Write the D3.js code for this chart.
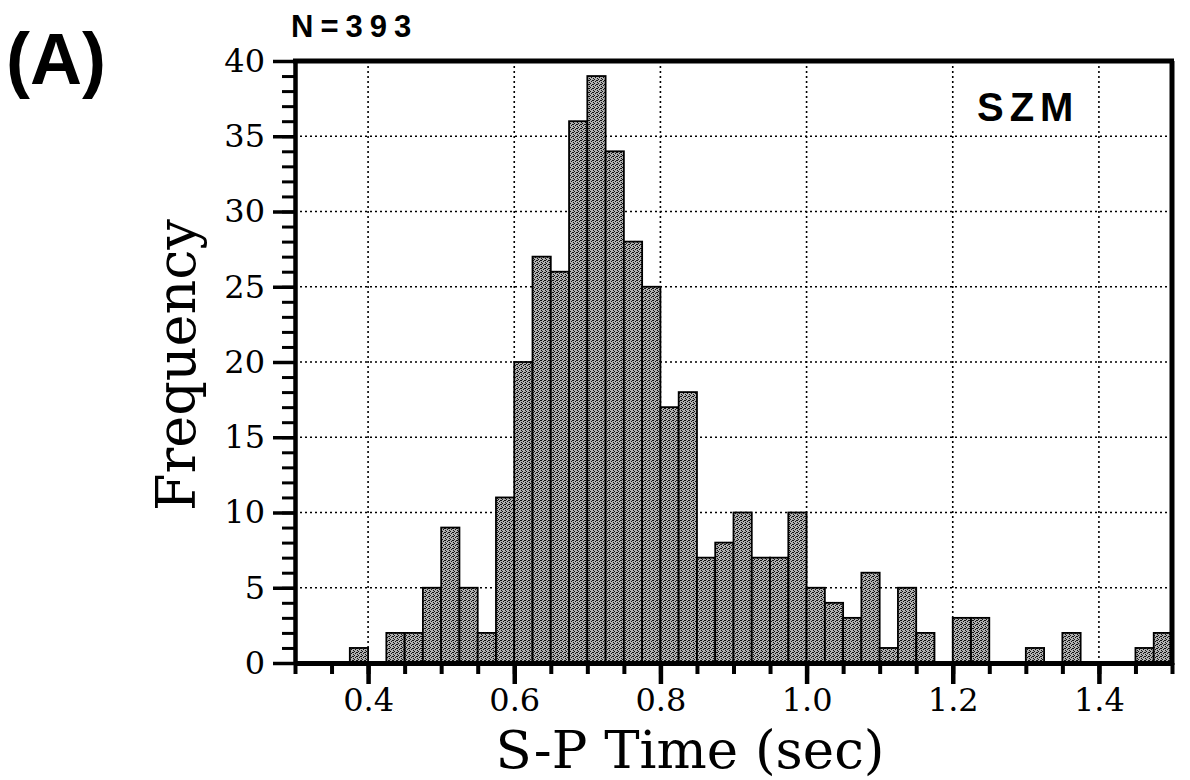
<!DOCTYPE html>
<html>
<head>
<meta charset="utf-8">
<script src="https://cdn.jsdelivr.net/npm/d3@7"></script>
<style>
    body { margin: 0; background: #fff; }
    .tick text { font-family: "DejaVu Serif", serif; font-size: 32px; fill: #000; }
</style>
</head>
<body>
<div id="chart"></div>
<script>

// bins of S-P time (sec), left edges, width 0.025
const binStarts = [0.300, 0.325, 0.350, 0.375, 0.400, 0.425, 0.450, 0.475,
    0.500, 0.525, 0.550, 0.575, 0.600, 0.625, 0.650, 0.675,
    0.700, 0.725, 0.750, 0.775, 0.800, 0.825, 0.850, 0.875,
    0.900, 0.925, 0.950, 0.975, 1.000, 1.025, 1.050, 1.075,
    1.100, 1.125, 1.150, 1.175, 1.200, 1.225, 1.250, 1.275,
    1.300, 1.325, 1.350, 1.375, 1.400, 1.425, 1.450, 1.475];
const binWidth = 0.025;

// frequency per bin
const counts = [0, 0, 0, 1, 0, 2, 2, 5,
    9, 5, 2, 11, 20, 27, 26, 36,
    39, 34, 28, 25, 17, 18, 7, 8,
    10, 7, 7, 10, 5, 4, 3, 6,
    1, 5, 2, 0, 3, 3, 0, 0,
    1, 0, 2, 0, 0, 0, 1, 2];

const xDomain = [0.3, 1.5];
const xMajorTicks = [0.4, 0.6, 0.8, 1.0, 1.2, 1.4];
const xTickLabels = ["0.4", "0.6", "0.8", "1.0", "1.2", "1.4"];
const yDomain = [0, 40];
const yMajorTicks = [0, 5, 10, 15, 20, 25, 30, 35, 40];
const yTickLabels = ["0", "5", "10", "15", "20", "25", "30", "35", "40"];

class HistVis {

    constructor(parentElement) {
        this.parentElement = parentElement;
        this.initVis();
    }

    initVis() {
        let vis = this;

        vis.margin = {top: 61, right: 18, bottom: 117, left: 295};
        vis.width = 1190 - vis.margin.left - vis.margin.right;
        vis.height = 780 - vis.margin.top - vis.margin.bottom;

        vis.root = d3.select("#" + vis.parentElement).append("svg")
            .attr("width", 1190)
            .attr("height", 780);

        // stipple fill like the scanned bars
        let pat = vis.root.append("defs").append("pattern")
            .attr("id", "stipple")
            .attr("width", 4).attr("height", 4)
            .attr("patternUnits", "userSpaceOnUse");
        pat.append("rect").attr("width", 4).attr("height", 4).attr("fill", "#b0b0b0");
        [[0, 0], [2, 1], [1, 3], [3, 2], [2, 3]].forEach(p => {
            pat.append("rect").attr("x", p[0]).attr("y", p[1])
                .attr("width", 1).attr("height", 1).attr("fill", "#111");
        });

        vis.svg = vis.root.append("g")
            .attr("transform", `translate(${vis.margin.left}, ${vis.margin.top})`);

        vis.x = d3.scaleLinear().domain(xDomain).range([0, vis.width]);
        vis.y = d3.scaleLinear().domain(yDomain).range([vis.height, 0]);

        // dotted grid
        let grid = vis.svg.append("g").attr("class", "grid");
        grid.selectAll("line.vgrid")
            .data(xMajorTicks)
            .enter().append("line")
            .attr("class", "vgrid")
            .attr("x1", d => vis.x(d)).attr("x2", d => vis.x(d))
            .attr("y1", 0).attr("y2", vis.height)
            .attr("stroke", "#000").attr("stroke-width", 1.6)
            .attr("stroke-dasharray", "2,3");
        grid.selectAll("line.hgrid")
            .data(yMajorTicks.filter(d => d > 0 && d < 40))
            .enter().append("line")
            .attr("class", "hgrid")
            .attr("x1", 0).attr("x2", vis.width)
            .attr("y1", d => vis.y(d)).attr("y2", d => vis.y(d))
            .attr("stroke", "#000").attr("stroke-width", 1.6)
            .attr("stroke-dasharray", "2,3");

        // bars
        vis.svg.selectAll(".bar")
            .data(binStarts.map((b, i) => ({start: b, count: counts[i]})).filter(d => d.count > 0))
            .enter().append("rect")
            .attr("class", "bar")
            .attr("x", d => vis.x(d.start))
            .attr("width", d => vis.x(d.start + binWidth) - vis.x(d.start))
            .attr("y", d => vis.y(d.count))
            .attr("height", d => vis.y(0) - vis.y(d.count))
            .attr("fill", "url(#stipple)")
            .attr("stroke", "#000")
            .attr("stroke-width", 1.8);

        // y axis, minor then major
        vis.svg.append("g")
            .call(d3.axisLeft(vis.y).tickValues(d3.range(0, 41, 1)).tickSize(13).tickSizeOuter(0))
            .call(g => g.selectAll(".tick text").remove())
            .call(g => g.selectAll(".tick line").attr("stroke-width", 3));
        vis.svg.append("g")
            .call(d3.axisLeft(vis.y).tickValues(yMajorTicks).tickSize(22).tickSizeOuter(0).tickPadding(8)
                .tickFormat((d, i) => yTickLabels[i]))
            .call(g => g.selectAll(".tick line").attr("stroke-width", 3.5))
            .call(g => g.select(".domain").attr("stroke-width", 4.5));

        // x axis, minor then major
        vis.svg.append("g")
            .attr("transform", `translate(0, ${vis.height})`)
            .call(d3.axisBottom(vis.x).tickValues(d3.range(6, 31).map(i => i * 0.05)).tickSize(11).tickSizeOuter(0))
            .call(g => g.selectAll(".tick text").remove())
            .call(g => g.selectAll(".tick line").attr("stroke-width", 4));
        vis.svg.append("g")
            .attr("transform", `translate(0, ${vis.height})`)
            .call(d3.axisBottom(vis.x).tickValues(xMajorTicks).tickSize(21).tickSizeOuter(0).tickPadding(4)
                .tickFormat((d, i) => xTickLabels[i]))
            .call(g => g.selectAll(".tick line").attr("stroke-width", 4.5))
            .call(g => g.select(".domain").attr("stroke-width", 5));

        // top and right frame
        vis.svg.append("line")
            .attr("x1", -2).attr("x2", vis.width + 2).attr("y1", 0).attr("y2", 0)
            .attr("stroke", "#000").attr("stroke-width", 5);
        vis.svg.append("line")
            .attr("x1", vis.width).attr("x2", vis.width).attr("y1", 0).attr("y2", vis.height + 2)
            .attr("stroke", "#000").attr("stroke-width", 5);

        // labels
        vis.root.append("text")
            .attr("transform", "translate(195, 365) rotate(-90)")
            .attr("text-anchor", "middle")
            .attr("font-family", "DejaVu Serif, serif")
            .attr("font-size", 54)
            .text("Frequency");

        vis.root.append("text")
            .attr("x", 690).attr("y", 768)
            .attr("text-anchor", "middle")
            .attr("font-family", "DejaVu Serif, serif")
            .attr("font-size", 53)
            .text("S-P Time (sec)");

        vis.root.append("text")
            .attr("x", 6).attr("y", 84)
            .attr("font-family", "Liberation Sans, Arial, sans-serif")
            .attr("font-weight", "bold")
            .attr("font-size", 72)
            .text("(A)");

        vis.root.append("text")
            .attr("x", 291).attr("y", 37)
            .attr("font-family", "Liberation Sans, Arial, sans-serif")
            .attr("font-weight", "bold")
            .attr("font-size", 31)
            .attr("letter-spacing", 7)
            .text("N=393");

        vis.root.append("text")
            .attr("x", 977).attr("y", 121)
            .attr("font-family", "Liberation Sans, Arial, sans-serif")
            .attr("font-weight", "bold")
            .attr("font-size", 40)
            .attr("letter-spacing", 6)
            .text("SZM");
    }
}

new HistVis("chart");
</script>
</body>
</html>
